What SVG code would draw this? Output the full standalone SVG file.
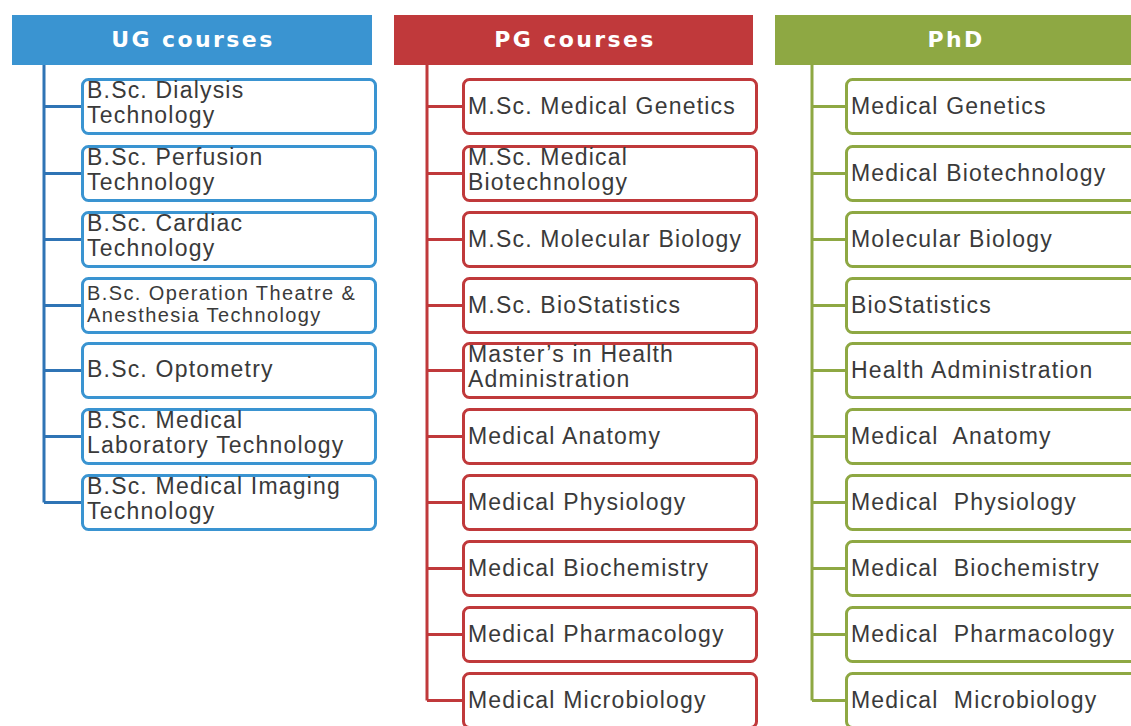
<svg xmlns="http://www.w3.org/2000/svg" width="1131" height="726" viewBox="0 0 1131 726">
<style>
.hdr{font-family:"DejaVu Sans","Liberation Sans",sans-serif;font-weight:bold;font-size:22px;fill:#fff;text-anchor:middle;letter-spacing:2.4px}
.t{font-family:"Liberation Sans",Arial,sans-serif;font-size:23px;fill:#3a3a3a;letter-spacing:1.2px}
.s{font-size:20px;letter-spacing:1.4px}
.ug{fill:#fff;stroke:#3a94d1;stroke-width:3}
.pg{fill:#fff;stroke:#c0393b;stroke-width:3}
.phd{fill:#fff;stroke:#8ea843;stroke-width:3}
.cu{stroke:#2f74b5;stroke-width:3;fill:none}
.cp{stroke:#c0393b;stroke-width:3;fill:none}
.cg{stroke:#8ea843;stroke-width:3;fill:none}
</style>
<rect width="1131" height="726" fill="#fff"/>
<g id="connectors">
<path class="cu" d="M44 65V502.5M44 106.5H82M44 173.5H82M44 239.5H82M44 305.5H82M44 370.5H82M44 436.5H82M44 502.5H82"/>
<path class="cp" d="M427 65V700.5M427 106.5H463M427 173.5H463M427 239.5H463M427 305.5H463M427 370.5H463M427 436.5H463M427 502.5H463M427 568.5H463M427 634.5H463M427 700.5H463"/>
<path class="cg" d="M812 65V700.5M812 106.5H846M812 173.5H846M812 239.5H846M812 305.5H846M812 370.5H846M812 436.5H846M812 502.5H846M812 568.5H846M812 634.5H846M812 700.5H846"/>
</g>
<g id="ug-header"><rect x="12" y="15" width="360" height="50" fill="#3a94d1"/><text class="hdr" x="193" y="47">UG courses</text></g>
<g id="pg-header"><rect x="394" y="15" width="359" height="50" fill="#c0393b"/><text class="hdr" x="575" y="47">PG courses</text></g>
<g id="phd-header"><rect x="775" y="15" width="362" height="50" fill="#8ea843"/><text class="hdr" x="956" y="47">PhD</text></g>

<g id="ug1"><rect class="ug" x="82.5" y="79.5" width="293" height="54" rx="6"/><text class="t" x="87" y="98">B.Sc. Dialysis</text><text class="t" x="87" y="123">Technology</text></g>
<g id="ug2"><rect class="ug" x="82.5" y="146.5" width="293" height="54" rx="6"/><text class="t" x="87" y="165">B.Sc. Perfusion</text><text class="t" x="87" y="190">Technology</text></g>
<g id="ug3"><rect class="ug" x="82.5" y="212.5" width="293" height="54" rx="6"/><text class="t" x="87" y="231">B.Sc. Cardiac</text><text class="t" x="87" y="256">Technology</text></g>
<g id="ug4"><rect class="ug" x="82.5" y="278.5" width="293" height="54" rx="6"/><text class="t s" x="87" y="300">B.Sc. Operation Theatre &amp;</text><text class="t s" x="87" y="322">Anesthesia Technology</text></g>
<g id="ug5"><rect class="ug" x="82.5" y="343.5" width="293" height="54" rx="6"/><text class="t" x="87" y="377">B.Sc. Optometry</text></g>
<g id="ug6"><rect class="ug" x="82.5" y="409.5" width="293" height="54" rx="6"/><text class="t" x="87" y="428">B.Sc. Medical</text><text class="t" x="87" y="453">Laboratory Technology</text></g>
<g id="ug7"><rect class="ug" x="82.5" y="475.5" width="293" height="54" rx="6"/><text class="t" x="87" y="494">B.Sc. Medical Imaging</text><text class="t" x="87" y="519">Technology</text></g>

<g id="pg1"><rect class="pg" x="463.5" y="79.5" width="293" height="54" rx="6"/><text class="t" x="468" y="114">M.Sc. Medical Genetics</text></g>
<g id="pg2"><rect class="pg" x="463.5" y="146.5" width="293" height="54" rx="6"/><text class="t" x="468" y="165">M.Sc. Medical</text><text class="t" x="468" y="190">Biotechnology</text></g>
<g id="pg3"><rect class="pg" x="463.5" y="212.5" width="293" height="54" rx="6"/><text class="t" x="468" y="247">M.Sc. Molecular Biology</text></g>
<g id="pg4"><rect class="pg" x="463.5" y="278.5" width="293" height="54" rx="6"/><text class="t" x="468" y="313">M.Sc. BioStatistics</text></g>
<g id="pg5"><rect class="pg" x="463.5" y="343.5" width="293" height="54" rx="6"/><text class="t" x="468" y="362">Master’s in Health</text><text class="t" x="468" y="387">Administration</text></g>
<g id="pg6"><rect class="pg" x="463.5" y="409.5" width="293" height="54" rx="6"/><text class="t" x="468" y="444">Medical Anatomy</text></g>
<g id="pg7"><rect class="pg" x="463.5" y="475.5" width="293" height="54" rx="6"/><text class="t" x="468" y="510">Medical Physiology</text></g>
<g id="pg8"><rect class="pg" x="463.5" y="541.5" width="293" height="54" rx="6"/><text class="t" x="468" y="576">Medical Biochemistry</text></g>
<g id="pg9"><rect class="pg" x="463.5" y="607.5" width="293" height="54" rx="6"/><text class="t" x="468" y="642">Medical Pharmacology</text></g>
<g id="pg10"><rect class="pg" x="463.5" y="673.5" width="293" height="54" rx="6"/><text class="t" x="468" y="708">Medical Microbiology</text></g>

<g id="phd1"><rect class="phd" x="846.5" y="79.5" width="293" height="54" rx="6"/><text class="t" x="851" y="114">Medical Genetics</text></g>
<g id="phd2"><rect class="phd" x="846.5" y="146.5" width="293" height="54" rx="6"/><text class="t" x="851" y="181">Medical Biotechnology</text></g>
<g id="phd3"><rect class="phd" x="846.5" y="212.5" width="293" height="54" rx="6"/><text class="t" x="851" y="247">Molecular Biology</text></g>
<g id="phd4"><rect class="phd" x="846.5" y="278.5" width="293" height="54" rx="6"/><text class="t" x="851" y="313">BioStatistics</text></g>
<g id="phd5"><rect class="phd" x="846.5" y="343.5" width="293" height="54" rx="6"/><text class="t" x="851" y="378">Health Administration</text></g>
<g id="phd6"><rect class="phd" x="846.5" y="409.5" width="293" height="54" rx="6"/><text class="t" x="851" y="444" xml:space="preserve">Medical  Anatomy</text></g>
<g id="phd7"><rect class="phd" x="846.5" y="475.5" width="293" height="54" rx="6"/><text class="t" x="851" y="510" xml:space="preserve">Medical  Physiology</text></g>
<g id="phd8"><rect class="phd" x="846.5" y="541.5" width="293" height="54" rx="6"/><text class="t" x="851" y="576" xml:space="preserve">Medical  Biochemistry</text></g>
<g id="phd9"><rect class="phd" x="846.5" y="607.5" width="293" height="54" rx="6"/><text class="t" x="851" y="642" xml:space="preserve">Medical  Pharmacology</text></g>
<g id="phd10"><rect class="phd" x="846.5" y="673.5" width="293" height="54" rx="6"/><text class="t" x="851" y="708" xml:space="preserve">Medical  Microbiology</text></g>
</svg>
